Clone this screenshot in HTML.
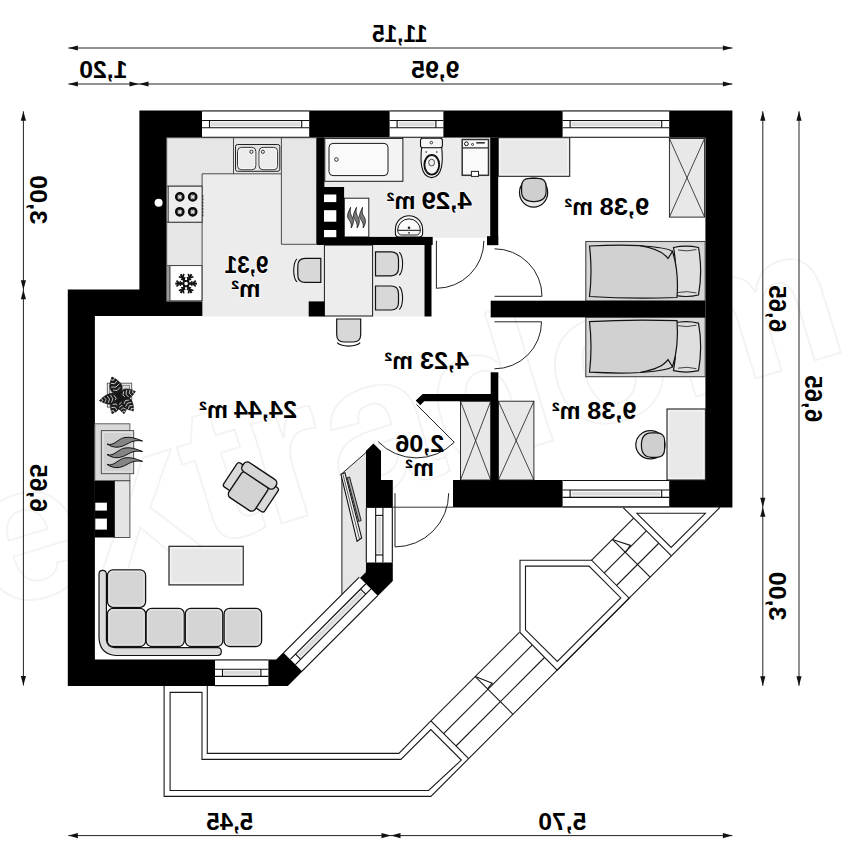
<!DOCTYPE html>
<html><head><meta charset="utf-8"><title>Rzut parteru</title>
<style>html,body{margin:0;padding:0;background:#fff}svg{display:block}</style></head>
<body>
<svg width="847" height="860" viewBox="0 0 847 860">
<rect width="847" height="860" fill="#fff"/>
<text transform="translate(-8,612) rotate(-17)" font-family="'Liberation Sans', sans-serif" font-weight="bold" font-size="196" textLength="900" lengthAdjust="spacingAndGlyphs" fill="#fff" stroke="#f3f3f3" stroke-width="1.8" stroke-linejoin="round">extradom</text>
<g fill="none" stroke="#1a1a1a" stroke-width="1.1">
<polyline points="719.80,507.50 430.90,796.40 164.10,796.40 164.10,686.10" />
<polyline points="207.30,686.10 207.30,753.40 398.90,753.40 430.90,720.90" />
<polygon points="170.10,692.40 202.00,692.40 202.00,759.40 400.90,759.40 430.80,729.60 461.30,760.10 428.60,790.50 170.10,790.50" />
<polyline points="430.90,720.90 519.40,632.40" />
<polyline points="443.60,733.60 532.10,645.10" />
<polyline points="456.00,746.00 544.50,657.50" />
<polyline points="430.90,720.90 468.65,758.65" />
<polyline points="475.25,676.55 513.00,714.30" />
<polyline points="475.25,676.55 492.25,683.15 487.45,688.75" />
<polygon points="520.00,560.20 591.60,560.20 629.15,598.15 557.15,670.15 520.00,632.50" />
<polygon points="525.50,566.10 589.00,566.10 620.80,597.90 557.30,661.40 525.50,629.80" />
<polyline points="591.40,560.40 633.65,518.15" />
<polyline points="604.10,573.10 646.35,530.85" />
<polyline points="616.50,585.50 658.75,543.25" />
<polyline points="612.40,539.40 650.15,577.15" />
<polyline points="612.40,539.40 630.40,545.40 625.40,552.40" />
<polyline points="623.10,507.50 671.40,555.90" />
<polygon points="636.90,513.30 705.40,513.30 671.20,547.40" />
</g>
<path d="M139.40 110.50 L732.40 110.50 L732.40 507.40 L392.80 507.40 L392.80 581.10 L287.80 686.10 L67.80 686.10 L67.80 289.50 L139.40 289.50 Z M166.70 137.70 L705.40 137.70 L705.40 480.00 L453.00 480.00 L453.00 507.40 L392.80 507.40 L392.80 480.00 L381.00 480.00 L381.00 450.90 L373.40 443.40 L365.80 450.90 L365.80 569.90 L276.20 659.50 L94.90 659.50 L94.90 316.00 L202.60 316.00 L202.60 301.20 L166.70 301.20 Z" fill="#000" fill-rule="evenodd"/>
<polygon points="166.70,137.70 316.90,137.70 316.90,245.00 424.50,245.00 424.50,316.40 202.60,316.40 202.60,301.20 166.70,301.20" fill="#ececec" stroke="none" stroke-width="1" />
<polygon points="324.40,137.70 489.80,137.70 489.80,237.80 432.70,237.80 432.70,236.90 344.10,236.90 344.10,187.00 324.40,187.00" fill="#ececec" stroke="none" stroke-width="1" />
<polygon points="166.70,137.70 316.50,137.70 316.50,244.30 281.40,244.30 281.40,173.80 202.10,173.80 202.10,301.20 166.70,301.20" fill="#e6e6e6" stroke="#3a3a3a" stroke-width="0.9" />
<line x1="233.50" y1="137.70" x2="233.50" y2="173.80" stroke="#3a3a3a" stroke-width="0.9" />
<line x1="281.40" y1="137.70" x2="281.40" y2="173.80" stroke="#3a3a3a" stroke-width="0.9" />
<line x1="166.70" y1="186.20" x2="202.10" y2="186.20" stroke="#3a3a3a" stroke-width="0.9" />
<line x1="166.70" y1="222.20" x2="202.10" y2="222.20" stroke="#3a3a3a" stroke-width="0.9" />
<line x1="166.70" y1="265.60" x2="202.10" y2="265.60" stroke="#3a3a3a" stroke-width="0.9" />
<rect x="235.50" y="144.50" width="44.30" height="26.80" fill="#e2e2e2" stroke="#222" stroke-width="1" rx="2" />
<rect x="237.60" y="147.40" width="18.20" height="22.30" fill="#ececec" stroke="#222" stroke-width="1" rx="4" />
<rect x="259.10" y="147.40" width="18.50" height="22.30" fill="#ececec" stroke="#222" stroke-width="1" rx="4" />
<rect x="238.60" y="148.40" width="16.20" height="20.30" fill="none" stroke="#fafafa" stroke-width="0.9" rx="3.2" />
<rect x="260.10" y="148.40" width="16.50" height="20.30" fill="none" stroke="#fafafa" stroke-width="0.9" rx="3.2" />
<circle cx="251.40" cy="151.80" r="1.60" fill="#f4f4f4" stroke="#222" stroke-width="0.9"/>
<circle cx="262.80" cy="151.80" r="1.60" fill="#f4f4f4" stroke="#222" stroke-width="0.9"/>
<rect x="168.20" y="186.20" width="33.90" height="36.00" fill="#ededed" stroke="#3a3a3a" stroke-width="1" />
<circle cx="179.80" cy="196.90" r="3.70" fill="#777" stroke="#0a0a0a" stroke-width="2.3"/>
<line x1="178.30" y1="195.40" x2="181.30" y2="198.40" stroke="#f2f2f2" stroke-width="1.1" />
<line x1="178.30" y1="198.40" x2="181.30" y2="195.40" stroke="#f2f2f2" stroke-width="1.1" />
<circle cx="179.80" cy="211.80" r="3.70" fill="#777" stroke="#0a0a0a" stroke-width="2.3"/>
<line x1="178.30" y1="210.30" x2="181.30" y2="213.30" stroke="#f2f2f2" stroke-width="1.1" />
<line x1="178.30" y1="213.30" x2="181.30" y2="210.30" stroke="#f2f2f2" stroke-width="1.1" />
<circle cx="192.70" cy="196.90" r="3.70" fill="#777" stroke="#0a0a0a" stroke-width="2.3"/>
<line x1="191.20" y1="195.40" x2="194.20" y2="198.40" stroke="#f2f2f2" stroke-width="1.1" />
<line x1="191.20" y1="198.40" x2="194.20" y2="195.40" stroke="#f2f2f2" stroke-width="1.1" />
<circle cx="192.70" cy="211.80" r="3.70" fill="#777" stroke="#0a0a0a" stroke-width="2.3"/>
<line x1="191.20" y1="210.30" x2="194.20" y2="213.30" stroke="#f2f2f2" stroke-width="1.1" />
<line x1="191.20" y1="213.30" x2="194.20" y2="210.30" stroke="#f2f2f2" stroke-width="1.1" />
<rect x="202.10" y="195.30" width="1.30" height="1.80" fill="#333" stroke="none" stroke-width="1" />
<rect x="202.10" y="198.50" width="1.30" height="1.80" fill="#333" stroke="none" stroke-width="1" />
<rect x="202.10" y="201.70" width="1.30" height="1.80" fill="#333" stroke="none" stroke-width="1" />
<rect x="202.10" y="204.90" width="1.30" height="1.80" fill="#333" stroke="none" stroke-width="1" />
<rect x="202.10" y="208.10" width="1.30" height="1.80" fill="#333" stroke="none" stroke-width="1" />
<rect x="202.10" y="211.30" width="1.30" height="1.80" fill="#333" stroke="none" stroke-width="1" />
<rect x="202.10" y="214.50" width="1.30" height="1.80" fill="#333" stroke="none" stroke-width="1" />
<rect x="166.70" y="265.60" width="3.30" height="35.20" fill="#999" stroke="#555" stroke-width="0.6" />
<rect x="170.00" y="265.60" width="31.90" height="35.20" fill="#fff" stroke="#3a3a3a" stroke-width="0.9" />
<g transform="translate(186.1,283.6)" stroke="#111" stroke-linecap="butt" fill="none">
<g transform="rotate(0)"><line x1="2.5" y1="0" x2="10.8" y2="0" stroke-width="2.1"/><path d="M9.6 -2.9 L6.6 0 L9.6 2.9" stroke-width="1.7"/><path d="M6.2 -2.3 L4.2 0 L6.2 2.3" stroke-width="1.3"/></g>
<g transform="rotate(60)"><line x1="2.5" y1="0" x2="10.8" y2="0" stroke-width="2.1"/><path d="M9.6 -2.9 L6.6 0 L9.6 2.9" stroke-width="1.7"/><path d="M6.2 -2.3 L4.2 0 L6.2 2.3" stroke-width="1.3"/></g>
<g transform="rotate(120)"><line x1="2.5" y1="0" x2="10.8" y2="0" stroke-width="2.1"/><path d="M9.6 -2.9 L6.6 0 L9.6 2.9" stroke-width="1.7"/><path d="M6.2 -2.3 L4.2 0 L6.2 2.3" stroke-width="1.3"/></g>
<g transform="rotate(180)"><line x1="2.5" y1="0" x2="10.8" y2="0" stroke-width="2.1"/><path d="M9.6 -2.9 L6.6 0 L9.6 2.9" stroke-width="1.7"/><path d="M6.2 -2.3 L4.2 0 L6.2 2.3" stroke-width="1.3"/></g>
<g transform="rotate(240)"><line x1="2.5" y1="0" x2="10.8" y2="0" stroke-width="2.1"/><path d="M9.6 -2.9 L6.6 0 L9.6 2.9" stroke-width="1.7"/><path d="M6.2 -2.3 L4.2 0 L6.2 2.3" stroke-width="1.3"/></g>
<g transform="rotate(300)"><line x1="2.5" y1="0" x2="10.8" y2="0" stroke-width="2.1"/><path d="M9.6 -2.9 L6.6 0 L9.6 2.9" stroke-width="1.7"/><path d="M6.2 -2.3 L4.2 0 L6.2 2.3" stroke-width="1.3"/></g>
<circle r="2.7" stroke-width="1.9"/>
</g>
<circle cx="158.60" cy="202.70" r="4.00" fill="#fff" stroke="none" stroke-width="0"/>
<rect x="324.40" y="245.10" width="48.20" height="70.90" fill="#ededed" stroke="#1a1a1a" stroke-width="1" />
<g transform="translate(309.30,270.40) rotate(-90)">
<path d="M-12 11.5 L-12 -4 Q-12 -11.5 -4.5 -11.5 L4.5 -11.5 Q12 -11.5 12 -4 L12 11.5 Z" fill="#d8d8d8" stroke="#111" stroke-width="1.2"/>
<path d="M-11.5 -12.2 Q-9 -15.4 0 -15.6 Q9 -15.4 11.5 -12.2" fill="none" stroke="#111" stroke-width="1.1"/>
</g>
<g transform="translate(387.00,263.80) rotate(90)">
<path d="M-12 11.5 L-12 -4 Q-12 -11.5 -4.5 -11.5 L4.5 -11.5 Q12 -11.5 12 -4 L12 11.5 Z" fill="#d8d8d8" stroke="#111" stroke-width="1.2"/>
<path d="M-11.5 -12.2 Q-9 -15.4 0 -15.6 Q9 -15.4 11.5 -12.2" fill="none" stroke="#111" stroke-width="1.1"/>
</g>
<g transform="translate(387.00,298.00) rotate(90)">
<path d="M-12 11.5 L-12 -4 Q-12 -11.5 -4.5 -11.5 L4.5 -11.5 Q12 -11.5 12 -4 L12 11.5 Z" fill="#d8d8d8" stroke="#111" stroke-width="1.2"/>
<path d="M-11.5 -12.2 Q-9 -15.4 0 -15.6 Q9 -15.4 11.5 -12.2" fill="none" stroke="#111" stroke-width="1.1"/>
</g>
<g transform="translate(348.70,330.50) rotate(180)">
<path d="M-12 11.5 L-12 -4 Q-12 -11.5 -4.5 -11.5 L4.5 -11.5 Q12 -11.5 12 -4 L12 11.5 Z" fill="#d8d8d8" stroke="#111" stroke-width="1.2"/>
<path d="M-11.5 -12.2 Q-9 -15.4 0 -15.6 Q9 -15.4 11.5 -12.2" fill="none" stroke="#111" stroke-width="1.1"/>
</g>
<rect x="324.80" y="138.40" width="78.10" height="42.90" fill="#f4f4f4" stroke="#1a1a1a" stroke-width="1" />
<rect x="329.00" y="143.40" width="59.00" height="32.20" fill="#fafafa" stroke="#1a1a1a" stroke-width="1" rx="4" />
<circle cx="336.40" cy="159.50" r="1.80" fill="#fff" stroke="#1a1a1a" stroke-width="0.9"/>
<rect x="344.30" y="198.20" width="24.50" height="38.80" fill="#fdfdfd" stroke="#222" stroke-width="1" />
<path d="M350.6 207.3 C349.1 211 347.0 214 347.70000000000005 217 C348.6 220.5 352.1 222 351.20000000000005 227.9 C354.8 222 353.40000000000003 218.5 351.3 215.5 C349.6 212.5 350.1 210 350.6 207.3 Z" fill="#7a7a7a" stroke="#111" stroke-width="0.8" />
<path d="M356.5 207.3 C355.0 211 352.9 214 353.6 217 C354.5 220.5 358.0 222 357.1 227.9 C360.7 222 359.3 218.5 357.2 215.5 C355.5 212.5 356.0 210 356.5 207.3 Z" fill="#7a7a7a" stroke="#111" stroke-width="0.8" />
<path d="M362.6 207.3 C361.1 211 359.0 214 359.70000000000005 217 C360.6 220.5 364.1 222 363.20000000000005 227.9 C366.8 222 365.40000000000003 218.5 363.3 215.5 C361.6 212.5 362.1 210 362.6 207.3 Z" fill="#7a7a7a" stroke="#111" stroke-width="0.8" />
<path d="M421.6 147.5 C420.3 160 420.3 177.6 431.6 177.6 C443 177.6 443 160 441.7 147.5 Z" fill="#f6f6f6" stroke="#111" stroke-width="1.1" />
<ellipse cx="431.80" cy="164.80" rx="7.40" ry="9.80" fill="#f6f6f6" stroke="#111" stroke-width="1.9"/>
<ellipse cx="431.60" cy="162.60" rx="2.90" ry="3.40" fill="#f0f0f0" stroke="#222" stroke-width="0.8"/>
<circle cx="426.20" cy="152.00" r="0.80" fill="#222" stroke="none" stroke-width="0"/>
<circle cx="436.80" cy="152.00" r="0.80" fill="#222" stroke="none" stroke-width="0"/>
<rect x="420.50" y="138.30" width="21.90" height="9.50" fill="#f6f6f6" stroke="#111" stroke-width="1.1" rx="2.2" />
<circle cx="431.30" cy="142.60" r="1.30" fill="#fff" stroke="#111" stroke-width="0.8"/>
<rect x="462.20" y="139.50" width="26.30" height="35.80" fill="#fafafa" stroke="#333" stroke-width="1.5" />
<line x1="462.20" y1="147.90" x2="488.50" y2="147.90" stroke="#333" stroke-width="1.3" />
<circle cx="466.40" cy="143.80" r="1.90" fill="#fff" stroke="#111" stroke-width="1"/>
<circle cx="472.50" cy="144.40" r="1.00" fill="#fff" stroke="#111" stroke-width="0.8"/>
<rect x="476.30" y="142.00" width="8.50" height="1.60" fill="#333" stroke="none" stroke-width="1" />
<rect x="471.40" y="171.40" width="7.10" height="5.00" fill="#fff" stroke="#222" stroke-width="1" />
<path d="M395.4 229.3 A13.6 13.6 0 0 1 422.6 229.3 L422.6 233.5 Q422.6 237 419 237 L399 237 Q395.4 237 395.4 233.5 Z" fill="#f6f6f6" stroke="#111" stroke-width="1.1" />
<path d="M397.6 230.3 A11.4 11.4 0 0 1 420.4 230.3 Z" fill="#fbfbfb" stroke="#111" stroke-width="1" />
<path d="M397.6 230.3 Q398 235 402 235 L416 235 Q420 235 420.4 230.3" fill="none" stroke="#111" stroke-width="0.9" />
<circle cx="409.00" cy="227.80" r="1.30" fill="#222" stroke="none" stroke-width="0"/>
<circle cx="409.00" cy="232.80" r="0.90" fill="#222" stroke="none" stroke-width="0"/>
<rect x="498.20" y="137.70" width="71.50" height="38.60" fill="#e9e9e9" stroke="#222" stroke-width="1.1" />
<rect x="500.00" y="139.50" width="67.90" height="35.00" fill="none" stroke="#f3f3f3" stroke-width="1.4" />
<g transform="translate(533.60,192.60) rotate(0)">
<ellipse cx="0" cy="0" rx="14.1" ry="14.6" fill="#e8e8e8" stroke="#111" stroke-width="1.2"/>
<path d="M-12 -6 Q-12 -14.2 -4 -14.2 L4.5 -14.2 Q12.5 -14.2 12.5 -6 L12.5 -1 Q12.5 9 0.2 9 Q-12 9 -12 -1 Z" fill="#cfcfcf" stroke="#111" stroke-width="1.2"/>
</g>
<rect x="669.40" y="138.50" width="35.20" height="78.60" fill="#e8e8e8" stroke="#1a1a1a" stroke-width="0.9" />
<line x1="669.40" y1="138.50" x2="704.60" y2="217.10" stroke="#1a1a1a" stroke-width="0.8" />
<line x1="669.40" y1="217.10" x2="704.60" y2="138.50" stroke="#1a1a1a" stroke-width="0.8" />
<rect x="585.80" y="241.50" width="119.40" height="59.60" fill="#d6d6d6" stroke="#444" stroke-width="1.1" />
<g>
<path d="M673.5 247.5 Q686 244.7 698.5 247.5 Q702.8 271.5 698.5 295.0 Q686 298.0 673.5 295.0 Q678 271.5 673.5 247.5 Z" fill="#dfdfdf" stroke="#111" stroke-width="1.2"/>
<path d="M678 250.0 Q687 252.0 696.5 249.5 " fill="none" stroke="#1a1a1a" stroke-width="0.8"/>
<path d="M678 292.5 Q687 290.5 696.5 293.0 " fill="none" stroke="#1a1a1a" stroke-width="0.8"/>
<path d="M589.5 246.0 Q620 244.5 640 245.7 Q662 249.5 668 258.5 L672.5 251.5 Q679 271.5 677 297.5 Q630 299.0 589.5 296.5 Q592.5 271.5 589.5 246.0 Z" fill="#d1d1d1" stroke="#111" stroke-width="1.2"/>
<path d="M640 245.7 Q668 247.5 672.5 251.5" fill="none" stroke="#111" stroke-width="1.1"/>
</g>
<rect x="585.80" y="317.10" width="119.40" height="59.60" fill="#d6d6d6" stroke="#444" stroke-width="1.1" />
<g transform="translate(0,693.80) scale(1,-1)">
<path d="M673.5 323.1 Q686 320.3 698.5 323.1 Q702.8 347.1 698.5 370.6 Q686 373.6 673.5 370.6 Q678 347.1 673.5 323.1 Z" fill="#dfdfdf" stroke="#111" stroke-width="1.2"/>
<path d="M678 325.6 Q687 327.6 696.5 325.1 " fill="none" stroke="#1a1a1a" stroke-width="0.8"/>
<path d="M678 368.1 Q687 366.1 696.5 368.6 " fill="none" stroke="#1a1a1a" stroke-width="0.8"/>
<path d="M589.5 321.6 Q620 320.1 640 321.3 Q662 325.1 668 334.1 L672.5 327.1 Q679 347.1 677 373.1 Q630 374.6 589.5 372.1 Q592.5 347.1 589.5 321.6 Z" fill="#d1d1d1" stroke="#111" stroke-width="1.2"/>
<path d="M640 321.3 Q668 323.1 672.5 327.1" fill="none" stroke="#111" stroke-width="1.1"/>
</g>
<rect x="498.40" y="401.20" width="35.50" height="78.80" fill="#e8e8e8" stroke="#1a1a1a" stroke-width="0.9" />
<line x1="498.40" y1="401.20" x2="533.90" y2="480.00" stroke="#1a1a1a" stroke-width="0.8" />
<line x1="498.40" y1="480.00" x2="533.90" y2="401.20" stroke="#1a1a1a" stroke-width="0.8" />
<rect x="460.50" y="401.20" width="30.20" height="78.80" fill="#e8e8e8" stroke="#1a1a1a" stroke-width="0.9" />
<line x1="460.50" y1="401.20" x2="490.70" y2="480.00" stroke="#1a1a1a" stroke-width="0.8" />
<line x1="460.50" y1="480.00" x2="490.70" y2="401.20" stroke="#1a1a1a" stroke-width="0.8" />
<rect x="667.00" y="409.00" width="38.40" height="71.00" fill="#e9e9e9" stroke="#222" stroke-width="1.1" />
<rect x="668.80" y="410.80" width="34.80" height="67.40" fill="none" stroke="#f3f3f3" stroke-width="1.4" />
<g transform="translate(650.40,444.80) rotate(90)">
<ellipse cx="0" cy="0" rx="14.1" ry="14.6" fill="#e8e8e8" stroke="#111" stroke-width="1.2"/>
<path d="M-12 -6 Q-12 -14.2 -4 -14.2 L4.5 -14.2 Q12.5 -14.2 12.5 -6 L12.5 -1 Q12.5 9 0.2 9 Q-12 9 -12 -1 Z" fill="#cfcfcf" stroke="#111" stroke-width="1.2"/>
</g>
<rect x="94.80" y="423.80" width="35.10" height="57.00" fill="#d9d9d9" stroke="#555" stroke-width="0.9" />
<rect x="101.30" y="430.60" width="32.40" height="43.10" fill="#d0d0d0" stroke="#444" stroke-width="0.9" />
<rect x="103.00" y="432.30" width="29.00" height="39.70" fill="none" stroke="#e4e4e4" stroke-width="1.2" />
<path d="M107 444.0 C114 446.5 118 438.5 125 437.5 C131 436.7 135 438.0 142.5 441.0 C135 440.0 132 441.3 127 444.0 C120 448.0 114 448.5 107 444.0 Z" fill="#858585" stroke="#111" stroke-width="1.0" />
<path d="M107 454.5 C114 457 118 449 125 448 C131 447.2 135 448.5 142.5 451.5 C135 450.5 132 451.8 127 454.5 C120 458.5 114 459 107 454.5 Z" fill="#858585" stroke="#111" stroke-width="1.0" />
<path d="M107 464.4 C114 466.9 118 458.9 125 457.9 C131 457.09999999999997 135 458.4 142.5 461.4 C135 460.4 132 461.7 127 464.4 C120 468.4 114 468.9 107 464.4 Z" fill="#858585" stroke="#111" stroke-width="1.0" />
<rect x="114.50" y="480.80" width="15.40" height="56.70" fill="#e4e4e4" stroke="#444" stroke-width="0.9" />
<rect x="94.80" y="480.80" width="19.70" height="56.70" fill="#000" stroke="none" stroke-width="1" />
<rect x="95.30" y="502.70" width="11.60" height="7.90" fill="#fff" stroke="none" stroke-width="1" />
<rect x="95.30" y="518.60" width="11.60" height="11.00" fill="#fff" stroke="none" stroke-width="1" />
<rect x="169.00" y="546.30" width="74.20" height="38.60" fill="#e7e7e7" stroke="#222" stroke-width="1.2" />
<rect x="170.80" y="548.10" width="70.60" height="35.00" fill="none" stroke="#f4f4f4" stroke-width="1.6" />
<path d="M99 574 Q99 570.3 102.7 570.3 Q106.2 570.3 106.4 574 L106.4 640 Q107 647.3 115 647.7 L217.5 647.7 Q221.3 647.7 221.3 651.6 Q221.3 655.5 217.5 655.5 L116 655.5 Q100 654.5 99 638 Z" fill="#dcdcdc" stroke="#111" stroke-width="1.2" />
<rect x="107.50" y="569.80" width="38.10" height="37.50" fill="#d5d5d5" stroke="#111" stroke-width="1.3" rx="5.5" />
<rect x="109.10" y="571.40" width="34.90" height="34.30" fill="none" stroke="#e2e2e2" stroke-width="1.4" rx="4.2" />
<rect x="107.50" y="608.40" width="38.10" height="38.10" fill="#d5d5d5" stroke="#111" stroke-width="1.3" rx="5.5" />
<rect x="109.10" y="610.00" width="34.90" height="34.90" fill="none" stroke="#e2e2e2" stroke-width="1.4" rx="4.2" />
<rect x="146.10" y="608.40" width="38.10" height="38.10" fill="#d5d5d5" stroke="#111" stroke-width="1.3" rx="5.5" />
<rect x="147.70" y="610.00" width="34.90" height="34.90" fill="none" stroke="#e2e2e2" stroke-width="1.4" rx="4.2" />
<rect x="185.30" y="608.40" width="37.50" height="38.10" fill="#d5d5d5" stroke="#111" stroke-width="1.3" rx="5.5" />
<rect x="186.90" y="610.00" width="34.30" height="34.90" fill="none" stroke="#e2e2e2" stroke-width="1.4" rx="4.2" />
<rect x="224.10" y="608.40" width="37.50" height="38.10" fill="#d5d5d5" stroke="#111" stroke-width="1.3" rx="5.5" />
<rect x="225.70" y="610.00" width="34.30" height="34.90" fill="none" stroke="#e2e2e2" stroke-width="1.4" rx="4.2" />
<g transform="translate(248.3,491.2) rotate(33.5)">
<rect x="-24.6" y="-19" width="12" height="28.7" rx="2.5" fill="#dadada" stroke="#111" stroke-width="1.3"/>
<rect x="12.6" y="-19" width="12" height="28.7" rx="2.5" fill="#dadada" stroke="#111" stroke-width="1.3"/>
<rect x="-15.7" y="-15" width="31.4" height="30.5" rx="4.5" fill="#d3d3d3" stroke="#111" stroke-width="1.4"/>
<rect x="-19" y="-24.5" width="39" height="10.8" rx="4.5" fill="#d6d6d6" stroke="#111" stroke-width="1.4"/>
</g>
<g transform="translate(119.7,398)">
<rect x="-12.4" y="-14.8" width="24.4" height="23.9" fill="#e9e9e9" stroke="#555" stroke-width="0.9"/>
<rect x="-10.3" y="-12.7" width="20.2" height="19.7" fill="#d8d8d8" stroke="#777" stroke-width="0.8"/>
<circle cx="0.5" cy="0" r="5.5" fill="#1c1c1c"/>
<g transform="translate(-1.2,-4.6) rotate(-112)">
<path d="M-1 0 C2.6 -8.8 10.6 -6.8 17.6 0 C10.6 6.8 2.6 8.8 -1 0Z" fill="#1c1c1c" stroke="#111" stroke-width="0.7"/>
<path d="M5.0 -3.7 L3.2 0 L5.0 3.7" fill="none" stroke="#e6e6e6" stroke-width="0.75"/>
<path d="M8.6 -4.4 L6.8 0 L8.6 4.4" fill="none" stroke="#e6e6e6" stroke-width="0.75"/>
<path d="M12.2 -3.3 L10.4 0 L12.2 3.3" fill="none" stroke="#e6e6e6" stroke-width="0.75"/>
<path d="M15.8 -2.3 L14.0 0 L15.8 2.3" fill="none" stroke="#e6e6e6" stroke-width="0.75"/>
</g>
<g transform="translate(0.4,-2.3) rotate(-15.5)">
<path d="M-1 0 C2.4 -7.6 9.5 -5.9 15.8 0 C9.5 5.9 2.4 7.6 -1 0Z" fill="#1c1c1c" stroke="#111" stroke-width="0.7"/>
<path d="M4.7 -3.2 L2.9 0 L4.7 3.2" fill="none" stroke="#e6e6e6" stroke-width="0.75"/>
<path d="M7.9 -3.8 L6.1 0 L7.9 3.8" fill="none" stroke="#e6e6e6" stroke-width="0.75"/>
<path d="M11.2 -2.9 L9.4 0 L11.2 2.9" fill="none" stroke="#e6e6e6" stroke-width="0.75"/>
<path d="M14.4 -1.9 L12.6 0 L14.4 1.9" fill="none" stroke="#e6e6e6" stroke-width="0.75"/>
</g>
<g transform="translate(-0.6,-0.3) rotate(171.5)">
<path d="M-1 0 C3.0 -8.0 11.9 -6.2 19.8 0 C11.9 6.2 3.0 8.0 -1 0Z" fill="#1c1c1c" stroke="#111" stroke-width="0.7"/>
<path d="M4.8 -3.2 L3.0 0 L4.8 3.2" fill="none" stroke="#e6e6e6" stroke-width="0.75"/>
<path d="M8.2 -4.1 L6.4 0 L8.2 4.1" fill="none" stroke="#e6e6e6" stroke-width="0.75"/>
<path d="M11.5 -3.5 L9.7 0 L11.5 3.5" fill="none" stroke="#e6e6e6" stroke-width="0.75"/>
<path d="M14.9 -2.7 L13.1 0 L14.9 2.7" fill="none" stroke="#e6e6e6" stroke-width="0.75"/>
<path d="M18.2 -1.9 L16.4 0 L18.2 1.9" fill="none" stroke="#e6e6e6" stroke-width="0.75"/>
</g>
<g transform="translate(-2.3,3.1) rotate(113)">
<path d="M-1 0 C2.0 -6.9 8.2 -5.3 13.6 0 C8.2 5.3 2.0 6.9 -1 0Z" fill="#1c1c1c" stroke="#111" stroke-width="0.7"/>
<path d="M4.9 -3.1 L3.1 0 L4.9 3.1" fill="none" stroke="#e6e6e6" stroke-width="0.75"/>
<path d="M8.4 -3.0 L6.6 0 L8.4 3.0" fill="none" stroke="#e6e6e6" stroke-width="0.75"/>
<path d="M11.9 -2.0 L10.1 0 L11.9 2.0" fill="none" stroke="#e6e6e6" stroke-width="0.75"/>
</g>
<g transform="translate(1.6,1.5) rotate(79)">
<path d="M-1 0 C2.2 -7.2 8.6 -5.6 14.4 0 C8.6 5.6 2.2 7.2 -1 0Z" fill="#1c1c1c" stroke="#111" stroke-width="0.7"/>
<path d="M4.4 -3.1 L2.6 0 L4.4 3.1" fill="none" stroke="#e6e6e6" stroke-width="0.75"/>
<path d="M7.4 -3.6 L5.6 0 L7.4 3.6" fill="none" stroke="#e6e6e6" stroke-width="0.75"/>
<path d="M10.3 -2.7 L8.5 0 L10.3 2.7" fill="none" stroke="#e6e6e6" stroke-width="0.75"/>
<path d="M13.3 -1.8 L11.5 0 L13.3 1.8" fill="none" stroke="#e6e6e6" stroke-width="0.75"/>
</g>
<g transform="translate(4,0.2) rotate(53)">
<path d="M-1 0 C2.4 -7.2 9.6 -5.6 16 0 C9.6 5.6 2.4 7.2 -1 0Z" fill="#1c1c1c" stroke="#111" stroke-width="0.7"/>
<path d="M4.7 -3.1 L2.9 0 L4.7 3.1" fill="none" stroke="#e6e6e6" stroke-width="0.75"/>
<path d="M8.0 -3.6 L6.2 0 L8.0 3.6" fill="none" stroke="#e6e6e6" stroke-width="0.75"/>
<path d="M11.3 -2.7 L9.5 0 L11.3 2.7" fill="none" stroke="#e6e6e6" stroke-width="0.75"/>
<path d="M14.5 -1.8 L12.7 0 L14.5 1.8" fill="none" stroke="#e6e6e6" stroke-width="0.75"/>
</g>
</g>
<polygon points="341.90,473.60 365.80,452.70 365.80,572.30 341.90,595.80" fill="#e6e6e6" stroke="none" stroke-width="1" />
<polyline points="365.80,452.70 341.90,473.60 341.90,595.80" fill="none" stroke="#222" stroke-width="1" />
<polygon points="347.20,477.80 349.60,477.00 361.20,520.60 358.80,521.40" fill="#aaa" stroke="#111" stroke-width="0.9" />
<polygon points="340.90,474.20 344.90,472.70 361.70,538.00 357.10,541.30" fill="#f4f4f4" stroke="#111" stroke-width="1.1" />
<line x1="343.00" y1="474.50" x2="359.50" y2="539.20" stroke="#333" stroke-width="0.8" />
<rect x="316.90" y="137.70" width="7.50" height="50.30" fill="#000" stroke="none" stroke-width="1" />
<rect x="316.90" y="187.00" width="27.20" height="58.00" fill="#000" stroke="none" stroke-width="1" />
<rect x="324.00" y="194.50" width="12.30" height="7.60" fill="#fff" stroke="none" stroke-width="1" />
<rect x="324.00" y="210.20" width="12.30" height="11.50" fill="#fff" stroke="none" stroke-width="1" />
<rect x="324.00" y="230.00" width="12.30" height="7.20" fill="#fff" stroke="none" stroke-width="1" />
<rect x="344.00" y="236.90" width="88.70" height="8.10" fill="#000" stroke="none" stroke-width="1" />
<rect x="424.50" y="244.00" width="7.00" height="72.50" fill="#000" stroke="none" stroke-width="1" />
<rect x="308.70" y="301.40" width="15.70" height="15.10" fill="#000" stroke="none" stroke-width="1" />
<rect x="490.20" y="137.70" width="8.00" height="107.30" fill="#000" stroke="none" stroke-width="1" />
<rect x="487.00" y="236.20" width="11.20" height="9.00" fill="#000" stroke="none" stroke-width="1" />
<rect x="490.70" y="300.70" width="214.70" height="16.70" fill="#000" stroke="none" stroke-width="1" />
<rect x="490.70" y="372.30" width="7.60" height="107.70" fill="#000" stroke="none" stroke-width="1" />
<polygon points="422.70,394.00 491.00,394.00 491.00,401.20 424.20,401.20 420.30,405.30 415.70,400.60" fill="#000" stroke="none" stroke-width="1" />
<rect x="202.00" y="110.50" width="107.20" height="27.20" fill="#fff" stroke="none" stroke-width="1" />
<line x1="202.00" y1="111.00" x2="309.20" y2="111.00" stroke="#111" stroke-width="1.1" />
<line x1="202.00" y1="137.20" x2="309.20" y2="137.20" stroke="#111" stroke-width="1.1" />
<rect x="209.50" y="120.43" width="92.20" height="7.34" fill="#e2e2e2" stroke="none" stroke-width="1" />
<rect x="210.60" y="121.83" width="90.00" height="4.54" fill="#dcdcdc" stroke="#fff" stroke-width="0.8" />
<line x1="202.00" y1="120.43" x2="309.20" y2="120.43" stroke="#111" stroke-width="1.1" />
<line x1="202.00" y1="127.77" x2="309.20" y2="127.77" stroke="#111" stroke-width="1.1" />
<line x1="209.50" y1="120.43" x2="209.50" y2="127.77" stroke="#111" stroke-width="1.1" />
<line x1="301.70" y1="120.43" x2="301.70" y2="127.77" stroke="#111" stroke-width="1.1" />
<rect x="389.60" y="110.50" width="53.80" height="27.20" fill="#fff" stroke="none" stroke-width="1" />
<line x1="389.60" y1="111.00" x2="443.40" y2="111.00" stroke="#111" stroke-width="1.1" />
<line x1="389.60" y1="137.20" x2="443.40" y2="137.20" stroke="#111" stroke-width="1.1" />
<rect x="397.10" y="120.43" width="38.80" height="7.34" fill="#e2e2e2" stroke="none" stroke-width="1" />
<rect x="398.20" y="121.83" width="36.60" height="4.54" fill="#dcdcdc" stroke="#fff" stroke-width="0.8" />
<line x1="389.60" y1="120.43" x2="443.40" y2="120.43" stroke="#111" stroke-width="1.1" />
<line x1="389.60" y1="127.77" x2="443.40" y2="127.77" stroke="#111" stroke-width="1.1" />
<line x1="397.10" y1="120.43" x2="397.10" y2="127.77" stroke="#111" stroke-width="1.1" />
<line x1="435.90" y1="120.43" x2="435.90" y2="127.77" stroke="#111" stroke-width="1.1" />
<rect x="562.60" y="110.50" width="106.60" height="27.20" fill="#fff" stroke="none" stroke-width="1" />
<line x1="562.60" y1="111.00" x2="669.20" y2="111.00" stroke="#111" stroke-width="1.1" />
<line x1="562.60" y1="137.20" x2="669.20" y2="137.20" stroke="#111" stroke-width="1.1" />
<rect x="570.10" y="120.43" width="91.60" height="7.34" fill="#e2e2e2" stroke="none" stroke-width="1" />
<rect x="571.20" y="121.83" width="89.40" height="4.54" fill="#dcdcdc" stroke="#fff" stroke-width="0.8" />
<line x1="562.60" y1="120.43" x2="669.20" y2="120.43" stroke="#111" stroke-width="1.1" />
<line x1="562.60" y1="127.77" x2="669.20" y2="127.77" stroke="#111" stroke-width="1.1" />
<line x1="570.10" y1="120.43" x2="570.10" y2="127.77" stroke="#111" stroke-width="1.1" />
<line x1="661.70" y1="120.43" x2="661.70" y2="127.77" stroke="#111" stroke-width="1.1" />
<rect x="562.60" y="480.00" width="106.60" height="27.40" fill="#fff" stroke="none" stroke-width="1" />
<line x1="562.60" y1="480.50" x2="669.20" y2="480.50" stroke="#111" stroke-width="1.1" />
<line x1="562.60" y1="506.90" x2="669.20" y2="506.90" stroke="#111" stroke-width="1.1" />
<rect x="570.10" y="490.00" width="91.60" height="7.40" fill="#e2e2e2" stroke="none" stroke-width="1" />
<rect x="571.20" y="491.40" width="89.40" height="4.60" fill="#dcdcdc" stroke="#fff" stroke-width="0.8" />
<line x1="562.60" y1="490.00" x2="669.20" y2="490.00" stroke="#111" stroke-width="1.1" />
<line x1="562.60" y1="497.40" x2="669.20" y2="497.40" stroke="#111" stroke-width="1.1" />
<line x1="570.10" y1="490.00" x2="570.10" y2="497.40" stroke="#111" stroke-width="1.1" />
<line x1="661.70" y1="490.00" x2="661.70" y2="497.40" stroke="#111" stroke-width="1.1" />
<rect x="215.00" y="659.50" width="53.40" height="26.60" fill="#fff" stroke="none" stroke-width="1" />
<line x1="215.00" y1="660.00" x2="268.40" y2="660.00" stroke="#111" stroke-width="1.1" />
<line x1="215.00" y1="685.60" x2="268.40" y2="685.60" stroke="#111" stroke-width="1.1" />
<rect x="222.50" y="669.21" width="38.40" height="7.18" fill="#e2e2e2" stroke="none" stroke-width="1" />
<rect x="223.60" y="670.61" width="36.20" height="4.38" fill="#dcdcdc" stroke="#fff" stroke-width="0.8" />
<line x1="215.00" y1="669.21" x2="268.40" y2="669.21" stroke="#111" stroke-width="1.1" />
<line x1="215.00" y1="676.39" x2="268.40" y2="676.39" stroke="#111" stroke-width="1.1" />
<line x1="222.50" y1="669.21" x2="222.50" y2="676.39" stroke="#111" stroke-width="1.1" />
<line x1="260.90" y1="669.21" x2="260.90" y2="676.39" stroke="#111" stroke-width="1.1" />
<g transform="translate(392.8,507.9) rotate(90)">
<rect x="0.00" y="0.00" width="54.60" height="27.00" fill="#fff" stroke="none" stroke-width="1" />
<line x1="0.00" y1="0.50" x2="54.60" y2="0.50" stroke="#111" stroke-width="1.1" />
<line x1="0.00" y1="26.50" x2="54.60" y2="26.50" stroke="#111" stroke-width="1.1" />
<rect x="7.50" y="9.86" width="39.60" height="7.29" fill="#e2e2e2" stroke="none" stroke-width="1" />
<rect x="8.60" y="11.26" width="37.40" height="4.49" fill="#dcdcdc" stroke="#fff" stroke-width="0.8" />
<line x1="0.00" y1="9.86" x2="54.60" y2="9.86" stroke="#111" stroke-width="1.1" />
<line x1="0.00" y1="17.14" x2="54.60" y2="17.14" stroke="#111" stroke-width="1.1" />
<line x1="7.50" y1="9.86" x2="7.50" y2="17.14" stroke="#111" stroke-width="1.1" />
<line x1="47.10" y1="9.86" x2="47.10" y2="17.14" stroke="#111" stroke-width="1.1" />
</g>
<g transform="translate(283.25,652.45) rotate(-45)">
<rect x="0.00" y="0.00" width="107.00" height="27.00" fill="#fff" stroke="none" stroke-width="1" />
<line x1="0.00" y1="0.50" x2="107.00" y2="0.50" stroke="#111" stroke-width="1.1" />
<line x1="0.00" y1="26.50" x2="107.00" y2="26.50" stroke="#111" stroke-width="1.1" />
<rect x="7.50" y="9.86" width="92.00" height="7.29" fill="#e2e2e2" stroke="none" stroke-width="1" />
<rect x="8.60" y="11.26" width="89.80" height="4.49" fill="#dcdcdc" stroke="#fff" stroke-width="0.8" />
<line x1="0.00" y1="9.86" x2="107.00" y2="9.86" stroke="#111" stroke-width="1.1" />
<line x1="0.00" y1="17.14" x2="107.00" y2="17.14" stroke="#111" stroke-width="1.1" />
<line x1="7.50" y1="9.86" x2="7.50" y2="17.14" stroke="#111" stroke-width="1.1" />
<line x1="99.50" y1="9.86" x2="99.50" y2="17.14" stroke="#111" stroke-width="1.1" />
</g>
<path d="M436.4 240.8 L436.4 288.3 A47.5 47.5 0 0 0 483.9 240.8" fill="none" stroke="#222" stroke-width="1" />
<path d="M494.5 296.3 L542 296.3 A47.5 47.5 0 0 0 494.5 248.8" fill="none" stroke="#222" stroke-width="1" />
<path d="M494.5 321.8 L541.5 321.8 A47 47 0 0 1 494.5 368.8" fill="none" stroke="#222" stroke-width="1" />
<path d="M416.5 404.5 L454.26 442.26 A53.4 53.4 0 0 1 378.09 441.59" fill="none" stroke="#222" stroke-width="1" />
<path d="M395 493.2 L395 546.9 A53.7 53.7 0 0 0 448.7 493.2" fill="none" stroke="#222" stroke-width="1" />
<line x1="392.80" y1="507.20" x2="453.00" y2="507.20" stroke="#222" stroke-width="0.9" />
<line x1="68.40" y1="48.00" x2="732.40" y2="48.00" stroke="#222" stroke-width="1" />
<polygon points="68.40,48.00 77.90,45.40 77.90,50.60" fill="#111" stroke="none" stroke-width="1" />
<polygon points="732.40,48.00 722.90,50.60 722.90,45.40" fill="#111" stroke="none" stroke-width="1" />
<line x1="68.40" y1="84.00" x2="732.40" y2="84.00" stroke="#222" stroke-width="1" />
<polygon points="68.40,84.00 77.90,81.40 77.90,86.60" fill="#111" stroke="none" stroke-width="1" />
<polygon points="732.40,84.00 722.90,86.60 722.90,81.40" fill="#111" stroke="none" stroke-width="1" />
<polygon points="139.00,84.00 129.50,86.60 129.50,81.40" fill="#111" stroke="none" stroke-width="1" />
<polygon points="139.00,84.00 148.50,81.40 148.50,86.60" fill="#111" stroke="none" stroke-width="1" />
<line x1="68.40" y1="835.60" x2="732.40" y2="835.60" stroke="#222" stroke-width="1" />
<polygon points="68.40,835.60 77.90,833.00 77.90,838.20" fill="#111" stroke="none" stroke-width="1" />
<polygon points="732.40,835.60 722.90,838.20 722.90,833.00" fill="#111" stroke="none" stroke-width="1" />
<polygon points="391.00,835.60 381.50,838.20 381.50,833.00" fill="#111" stroke="none" stroke-width="1" />
<polygon points="391.00,835.60 400.50,833.00 400.50,838.20" fill="#111" stroke="none" stroke-width="1" />
<line x1="23.40" y1="111.30" x2="23.40" y2="685.50" stroke="#222" stroke-width="1" />
<polygon points="23.40,111.30 26.00,120.80 20.80,120.80" fill="#111" stroke="none" stroke-width="1" />
<polygon points="23.40,685.50 20.80,676.00 26.00,676.00" fill="#111" stroke="none" stroke-width="1" />
<polygon points="23.40,289.80 20.80,280.30 26.00,280.30" fill="#111" stroke="none" stroke-width="1" />
<polygon points="23.40,289.80 26.00,299.30 20.80,299.30" fill="#111" stroke="none" stroke-width="1" />
<line x1="762.80" y1="111.30" x2="762.80" y2="685.80" stroke="#222" stroke-width="1" />
<polygon points="762.80,111.30 765.40,120.80 760.20,120.80" fill="#111" stroke="none" stroke-width="1" />
<polygon points="762.80,685.80 760.20,676.30 765.40,676.30" fill="#111" stroke="none" stroke-width="1" />
<polygon points="762.80,507.30 760.20,497.80 765.40,497.80" fill="#111" stroke="none" stroke-width="1" />
<polygon points="762.80,507.30 765.40,516.80 760.20,516.80" fill="#111" stroke="none" stroke-width="1" />
<line x1="799.00" y1="111.30" x2="799.00" y2="685.80" stroke="#222" stroke-width="1" />
<polygon points="799.00,111.30 801.60,120.80 796.40,120.80" fill="#111" stroke="none" stroke-width="1" />
<polygon points="799.00,685.80 796.40,676.30 801.60,676.30" fill="#111" stroke="none" stroke-width="1" />
<g font-family="'Liberation Sans', sans-serif" font-weight="bold" fill="#000">
<text transform="translate(399.80,42.10) scale(-1,1)" text-anchor="middle" font-size="24.6" textLength="55.4" lengthAdjust="spacingAndGlyphs">11,15</text>
<text transform="translate(103.35,77.80) scale(-1,1)" text-anchor="middle" font-size="24.6" textLength="48.3" lengthAdjust="spacingAndGlyphs">1,20</text>
<text transform="translate(435.45,77.70) scale(-1,1)" text-anchor="middle" font-size="24.6" textLength="48.3" lengthAdjust="spacingAndGlyphs">9,95</text>
<text transform="translate(229.85,829.90) scale(-1,1)" text-anchor="middle" font-size="24.6" textLength="46.9" lengthAdjust="spacingAndGlyphs">5,45</text>
<text transform="translate(562.35,829.90) scale(-1,1)" text-anchor="middle" font-size="24.6" textLength="48.1" lengthAdjust="spacingAndGlyphs">5,70</text>
<text transform="translate(29.70,199.80) scale(-1,1) rotate(-90)" text-anchor="middle" font-size="24.6" textLength="49.0" lengthAdjust="spacingAndGlyphs">3,00</text>
<text transform="translate(29.70,487.95) scale(-1,1) rotate(-90)" text-anchor="middle" font-size="24.6" textLength="48.1" lengthAdjust="spacingAndGlyphs">6,65</text>
<text transform="translate(768.80,308.70) scale(-1,1) rotate(-90)" text-anchor="middle" font-size="24.6" textLength="47.0" lengthAdjust="spacingAndGlyphs">6,65</text>
<text transform="translate(804.50,398.70) scale(-1,1) rotate(-90)" text-anchor="middle" font-size="24.6" textLength="47.0" lengthAdjust="spacingAndGlyphs">6,65</text>
<text transform="translate(768.80,596.20) scale(-1,1) rotate(-90)" text-anchor="middle" font-size="24.6" textLength="48.8" lengthAdjust="spacingAndGlyphs">3,00</text>
<text transform="translate(246.60,273.00) scale(-1,1)" text-anchor="middle" font-size="24.6" textLength="44.0" lengthAdjust="spacingAndGlyphs" stroke="#f6f6f6" stroke-width="2.4" stroke-linejoin="round" paint-order="stroke">9,31</text>
<text transform="translate(245.90,297.10) scale(-1,1)" text-anchor="middle" font-size="24.6" textLength="29.4" lengthAdjust="spacingAndGlyphs" stroke="#f6f6f6" stroke-width="2.4" stroke-linejoin="round" paint-order="stroke">m&#178;</text>
<text transform="translate(446.75,209.20) scale(-1,1)" text-anchor="middle" font-size="24.6" textLength="50.7" lengthAdjust="spacingAndGlyphs" stroke="#f6f6f6" stroke-width="2.4" stroke-linejoin="round" paint-order="stroke">4,29</text>
<text transform="translate(401.15,209.20) scale(-1,1)" text-anchor="middle" font-size="24.6" textLength="28.9" lengthAdjust="spacingAndGlyphs" stroke="#f6f6f6" stroke-width="2.4" stroke-linejoin="round" paint-order="stroke">m&#178;</text>
<text transform="translate(624.45,215.10) scale(-1,1)" text-anchor="middle" font-size="24.6" textLength="49.5" lengthAdjust="spacingAndGlyphs">9,38</text>
<text transform="translate(578.80,215.10) scale(-1,1)" text-anchor="middle" font-size="24.6" textLength="28.4" lengthAdjust="spacingAndGlyphs">m&#178;</text>
<text transform="translate(444.50,368.60) scale(-1,1)" text-anchor="middle" font-size="24.6" textLength="48.8" lengthAdjust="spacingAndGlyphs">4,23</text>
<text transform="translate(398.80,368.60) scale(-1,1)" text-anchor="middle" font-size="24.6" textLength="28.4" lengthAdjust="spacingAndGlyphs">m&#178;</text>
<text transform="translate(611.90,419.20) scale(-1,1)" text-anchor="middle" font-size="24.6" textLength="49.2" lengthAdjust="spacingAndGlyphs">9,38</text>
<text transform="translate(566.30,419.20) scale(-1,1)" text-anchor="middle" font-size="24.6" textLength="28.6" lengthAdjust="spacingAndGlyphs">m&#178;</text>
<text transform="translate(265.55,417.60) scale(-1,1)" text-anchor="middle" font-size="24.6" textLength="62.9" lengthAdjust="spacingAndGlyphs">24,44</text>
<text transform="translate(213.65,417.60) scale(-1,1)" text-anchor="middle" font-size="24.6" textLength="28.9" lengthAdjust="spacingAndGlyphs">m&#178;</text>
<text transform="translate(419.75,452.30) scale(-1,1)" text-anchor="middle" font-size="24.6" textLength="49.1" lengthAdjust="spacingAndGlyphs">2,06</text>
<text transform="translate(419.60,476.40) scale(-1,1)" text-anchor="middle" font-size="24.6" textLength="28.6" lengthAdjust="spacingAndGlyphs">m&#178;</text>
</g>
</svg>
</body></html>
